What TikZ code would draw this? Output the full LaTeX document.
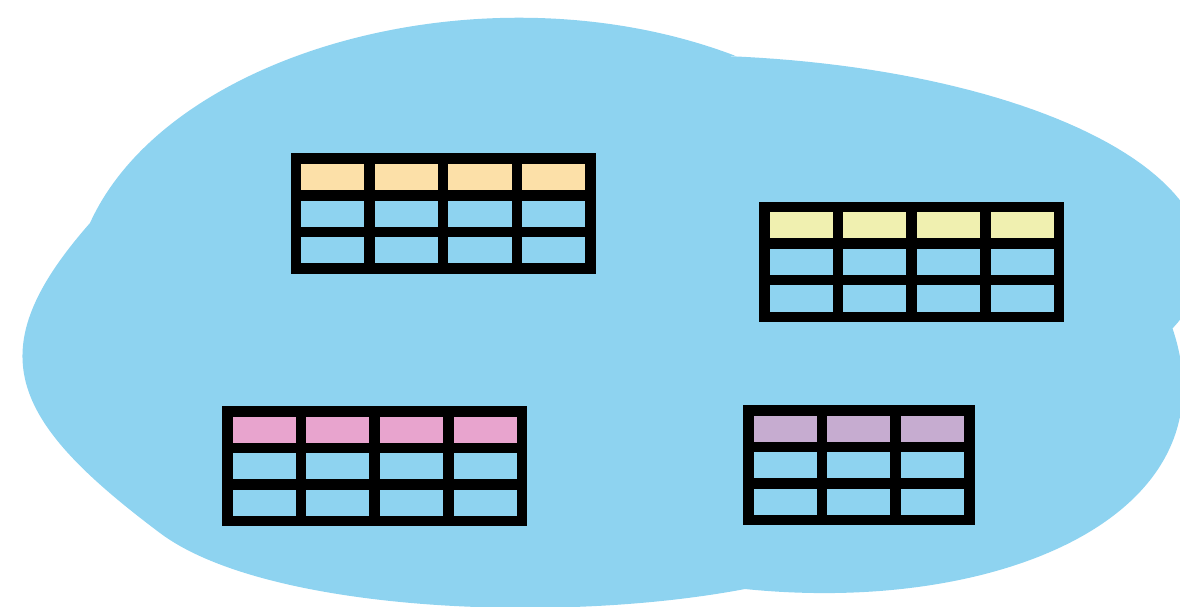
\documentclass[tikz,border=0pt]{standalone}
\definecolor{cloudblue}{RGB}{142,211,240}
\definecolor{hdrorange}{RGB}{252,224,168}
\definecolor{hdryellow}{RGB}{240,240,176}
\definecolor{hdrpink}{RGB}{232,164,206}
\definecolor{hdrpurple}{RGB}{198,172,208}
\tikzset{
  gridline/.style={line width=10.5pt, black},
  pics/dbtable/.style n args={2}{code={
    \fill[#2] (0,0) rectangle (#1*73.6,36.6);
    \foreach \i in {1,...,#1}{\draw[gridline] (\i*73.6,0) -- (\i*73.6,109.8);}
    \draw[gridline] (0,36.6) -- (#1*73.6,36.6);
    \draw[gridline] (0,73.2) -- (#1*73.6,73.2);
    \draw[gridline] (0,0) rectangle (#1*73.6,109.8);
  }}
}
\begin{document}
\begin{tikzpicture}[x=1pt,y=-1pt]
\useasboundingbox (0,0) rectangle (1180,606);
\begin{scope}
\clip (0,0) rectangle (1180,606);
\fill[cloudblue]
  (90,223) .. controls (168.8,49.2) and (489.9,-37.4) .. (735,55.7)
  -- plot[domain=-84:19.6, samples=60] ({673+530*cos(\x)},{260+205*sin(\x)})
  -- (1172.7,329) .. controls (1235,515) and (1000,615) .. (745,589)
  .. controls (555,625) and (264,611) .. (160,533)
  .. controls (8,419) and (-22,350.5) .. (90,223) -- cycle;
\end{scope}
\pic (t1) at (296,158.7) {dbtable={4}{hdrorange}};
\pic (t2) at (764.5,207) {dbtable={4}{hdryellow}};
\pic (t3) at (227.5,411.3) {dbtable={4}{hdrpink}};
\pic (t4) at (748.5,410.3) {dbtable={3}{hdrpurple}};
\end{tikzpicture}
\end{document}
